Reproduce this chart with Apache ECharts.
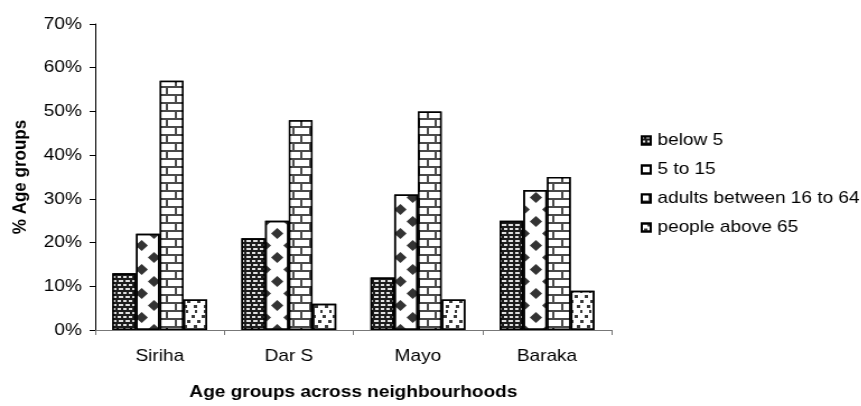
<!DOCTYPE html>
<html>
<head>
<meta charset="utf-8">
<script src="https://cdn.jsdelivr.net/npm/echarts@6/dist/echarts.min.js"></script>
<style>
  html, body { margin: 0; padding: 0; background: #fff; overflow: hidden; }
  /* the chart is drawn on a narrower canvas and widened horizontally */
  #chart { width: 769px; height: 406px; transform: scaleX(1.12); transform-origin: 0 0; }
</style>
</head>
<body>
<div id="chart"></div>
<script>
// Neighbourhoods on the x axis
const categories = ['Siriha', 'Dar S', 'Mayo', 'Baraka'];

// Share of each age group per neighbourhood (%)
const below5 = [13, 21, 12, 25];
const age5to15 = [22, 25, 31, 32];
const adults16to64 = [57, 48, 50, 35];
const above65 = [7, 6, 7, 9];

const seriesNames = ['below 5', '5 to 15', 'adults between 16 to 64', 'people above 65'];
const yTicks = [0, 10, 20, 30, 40, 50, 60, 70];

const FONT = "'Liberation Sans', Arial, sans-serif";
const border = { borderColor: '#000', borderWidth: 1.5 };

// hatch patterns for each group
const decals = [
  { // dark fill with light staggered dashes
    color: 'rgba(235,235,235,0.95)', symbol: 'rect', symbolSize: 1, symbolKeepAspect: false,
    dashArrayX: [[3, 2], [1.5, 2, 1.5, 0]], dashArrayY: [2, 2]
  },
  { // diamond checker
    color: '#333', symbol: 'diamond', symbolSize: 1, symbolKeepAspect: false,
    dashArrayX: [[10.5, 10.5], [0, 10.5, 10.5, 0]], dashArrayY: [11, 0.3]
  },
  { // bricks
    color: '#fff', symbol: 'rect', symbolSize: 1, symbolKeepAspect: false,
    dashArrayX: [[13, 2], [6, 2, 7, 0]], dashArrayY: [5.3, 2]
  },
  { // scattered dots
    color: '#3a3a3a', symbol: 'rect', symbolSize: 1, symbolKeepAspect: false,
    dashArrayX: [[2.5, 5.5], [0, 4.5, 2.5, 1], [0, 1.5, 2.5, 4], [0, 6, 2, 0]], dashArrayY: [2.5, 2]
  }
];
const fills = ['#1c1c1c', '#ffffff', '#4a4a4a', '#ffffff'];
const values = [below5, age5to15, adults16to64, above65];

const chart = echarts.init(document.getElementById('chart'), null, { renderer: 'canvas' });

chart.setOption({
  animation: false,
  backgroundColor: '#fff',
  textStyle: { fontFamily: FONT, color: '#000' },
  grid: { left: 85, right: 223, top: 24, bottom: 73 },
  legend: {
    orient: 'vertical',
    left: 567,
    top: 127,
    icon: 'rect',
    itemWidth: 8,
    itemHeight: 8,
    itemGap: 12,
    data: seriesNames,
    textStyle: { fontFamily: FONT, fontSize: 17, color: '#000', padding: [0, 0, 0, 1] }
  },
  xAxis: {
    type: 'category',
    data: categories,
    axisLine: { lineStyle: { color: '#777', width: 1 } },
    axisTick: { show: true, length: 5, lineStyle: { color: '#777' } },
    axisLabel: { fontSize: 17, color: '#000', margin: 18, fontFamily: FONT },
    name: 'Age groups across neighbourhoods',
    nameLocation: 'middle',
    nameGap: 54,
    nameTextStyle: { fontSize: 17, fontWeight: 'bold', color: '#000', fontFamily: FONT }
  },
  yAxis: {
    type: 'value',
    min: yTicks[0],
    max: yTicks[yTicks.length - 1],
    interval: 10,
    splitLine: { show: false },
    axisLine: { show: true, lineStyle: { color: '#000', width: 1 } },
    axisTick: { show: true, length: 5, lineStyle: { color: '#000' } },
    axisLabel: { fontSize: 17, color: '#000', margin: 12, fontFamily: FONT, formatter: v => v + '%' },
    name: '% Age groups',
    nameLocation: 'middle',
    nameGap: 58,
    nameTextStyle: { fontSize: 17, fontWeight: 'bold', color: '#000', fontFamily: FONT }
  },
  series: seriesNames.map((name, i) => ({
    name,
    type: 'bar',
    data: values[i],
    barGap: '0%',
    barCategoryGap: '26.5%',
    itemStyle: Object.assign({ color: fills[i], decal: decals[i] }, border)
  }))
});
</script>
</body>
</html>
